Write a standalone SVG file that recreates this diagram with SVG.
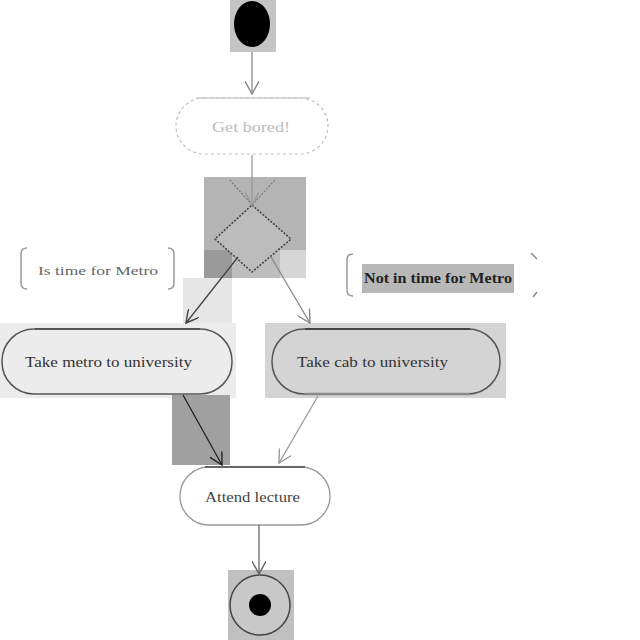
<svg xmlns="http://www.w3.org/2000/svg" width="640" height="640" viewBox="0 0 640 640">
  <defs>
    <marker id="open" viewBox="0 0 12 12" refX="11" refY="6" markerWidth="14" markerHeight="14" markerUnits="userSpaceOnUse" orient="auto">
      <path d="M0,0 L11,6 L0,12" fill="none" stroke="context-stroke" stroke-width="1.2"/>
    </marker>
  </defs>
  <style>
    text { font-family: "Liberation Serif", "DejaVu Serif", serif; }
    .act { fill: none; stroke: #555; stroke-width: 1.5; }
    .lbl { font-size: 15px; fill: #333; }
    .guard { font-size: 13px; fill: #666; }
    .bracket { fill: none; stroke: #999; stroke-width: 1.5; }
    .flow { fill: none; stroke-width: 1.3; marker-end: url(#open); }
  </style>
  <rect width="640" height="640" fill="#ffffff"/>

  <g id="start">
    <rect x="230" y="0" width="46" height="52" fill="#c4c4c4"/>
    <ellipse cx="252" cy="24" rx="18" ry="23" fill="#000"/>
  </g>

  <g id="get-bored">
    <rect x="176" y="98" width="152" height="56" rx="28" fill="#fff" stroke="#bbb" stroke-width="1.2" stroke-dasharray="3 3"/>
    <line x1="196" y1="98" x2="310" y2="98" stroke="#ccc" stroke-width="1.5"/>
    <text x="212" y="132" font-size="15" fill="#bbb" textLength="78" lengthAdjust="spacingAndGlyphs">Get bored!</text>
  </g>

  <g id="decision">
    <rect x="204" y="177" width="102" height="74" fill="#b4b4b4"/>
    <rect x="204" y="250" width="28" height="28" fill="#9a9a9a"/>
    <rect x="232" y="250" width="48" height="28" fill="#bdbdbd"/>
    <rect x="280" y="250" width="26" height="28" fill="#d6d6d6"/>
    <rect x="183" y="278" width="49" height="46" fill="#e6e6e6"/>
    <polygon points="252,205 291,239 252,272 215,239" fill="#bcbcbc" stroke="#444" stroke-width="1.6" stroke-dasharray="2 1.5"/>
    <line x1="252" y1="205" x2="229" y2="179" stroke="#777" stroke-width="1.2" stroke-dasharray="2 1.5"/>
    <line x1="252" y1="205" x2="276" y2="179" stroke="#777" stroke-width="1.2" stroke-dasharray="2 1.5"/>
  </g>

  <g id="guard-metro">
    <path class="bracket" d="M27,248 Q21,248 21,254 L21,283 Q21,289 27,289"/>
    <path class="bracket" d="M168,248 Q174,248 174,254 L174,283 Q174,289 168,289"/>
    <text class="guard" x="38" y="275" textLength="120" lengthAdjust="spacingAndGlyphs">Is time for Metro</text>
  </g>

  <g id="guard-no-metro">
    <path class="bracket" d="M353,254 Q347,254 347,260 L347,290 Q347,296 353,296"/>
    <path d="M531,253 L537,259 M537,292 L533,297" fill="none" stroke="#888" stroke-width="1.5"/>
    <rect x="362" y="264" width="152" height="29" fill="#b8b8b8"/>
    <text x="364" y="283" font-size="15" font-weight="bold" fill="#222" textLength="148" lengthAdjust="spacingAndGlyphs">Not in time for Metro</text>
  </g>

  <g id="take-metro">
    <rect x="0" y="323" width="236" height="75" fill="#ececec"/>
    <rect class="act" x="2" y="329" width="230" height="65" rx="32" fill="#f3f3f3"/>
    <line x1="35" y1="329" x2="200" y2="329" stroke="#555" stroke-width="2"/>
    <text class="lbl" x="25" y="367" textLength="167" lengthAdjust="spacingAndGlyphs">Take metro to university</text>
  </g>

  <g id="take-cab">
    <rect x="265" y="323" width="241" height="75" fill="#d4d4d4"/>
    <rect class="act" x="272" y="329" width="228" height="65" rx="32" fill="#dcdcdc"/>
    <line x1="305" y1="329" x2="470" y2="329" stroke="#444" stroke-width="2"/>
    <line x1="305" y1="394" x2="470" y2="394" stroke="#888" stroke-width="2.5"/>
    <text class="lbl" x="297" y="367" fill="#222" textLength="151" lengthAdjust="spacingAndGlyphs">Take cab to university</text>
  </g>

  <g id="attend">
    <rect x="180" y="467" width="150" height="58" rx="29" fill="#fff" stroke="#999" stroke-width="1.3"/>
    <line x1="205" y1="467" x2="305" y2="467" stroke="#666" stroke-width="2"/>
    <text x="205" y="502" font-size="15" fill="#444" textLength="95" lengthAdjust="spacingAndGlyphs">Attend lecture</text>
  </g>

  <g id="end">
    <rect x="228" y="570" width="66" height="70" fill="#c0c0c0"/>
    <circle cx="260" cy="605" r="30" fill="#c8c8c8" stroke="#444" stroke-width="1.5"/>
    <circle cx="260" cy="605" r="11" fill="#000"/>
  </g>

  <g id="connectors">
    <rect x="172" y="395" width="58" height="70" fill="#a0a0a0"/>
    <line class="flow" x1="252" y1="52" x2="252" y2="94" stroke="#888"/>
    <line class="flow" x1="252" y1="155" x2="252" y2="205" stroke="#999"/>
    <line class="flow" x1="238" y1="257" x2="186" y2="323" stroke="#444"/>
    <line class="flow" x1="271" y1="257" x2="310" y2="323" stroke="#888"/>
    <line class="flow" x1="183" y1="395" x2="222" y2="465" stroke="#222" stroke-width="1.8"/>
    <line class="flow" x1="318" y1="396" x2="279" y2="463" stroke="#999"/>
    <line class="flow" x1="259" y1="525" x2="259" y2="574" stroke="#666"/>
  </g>
</svg>
